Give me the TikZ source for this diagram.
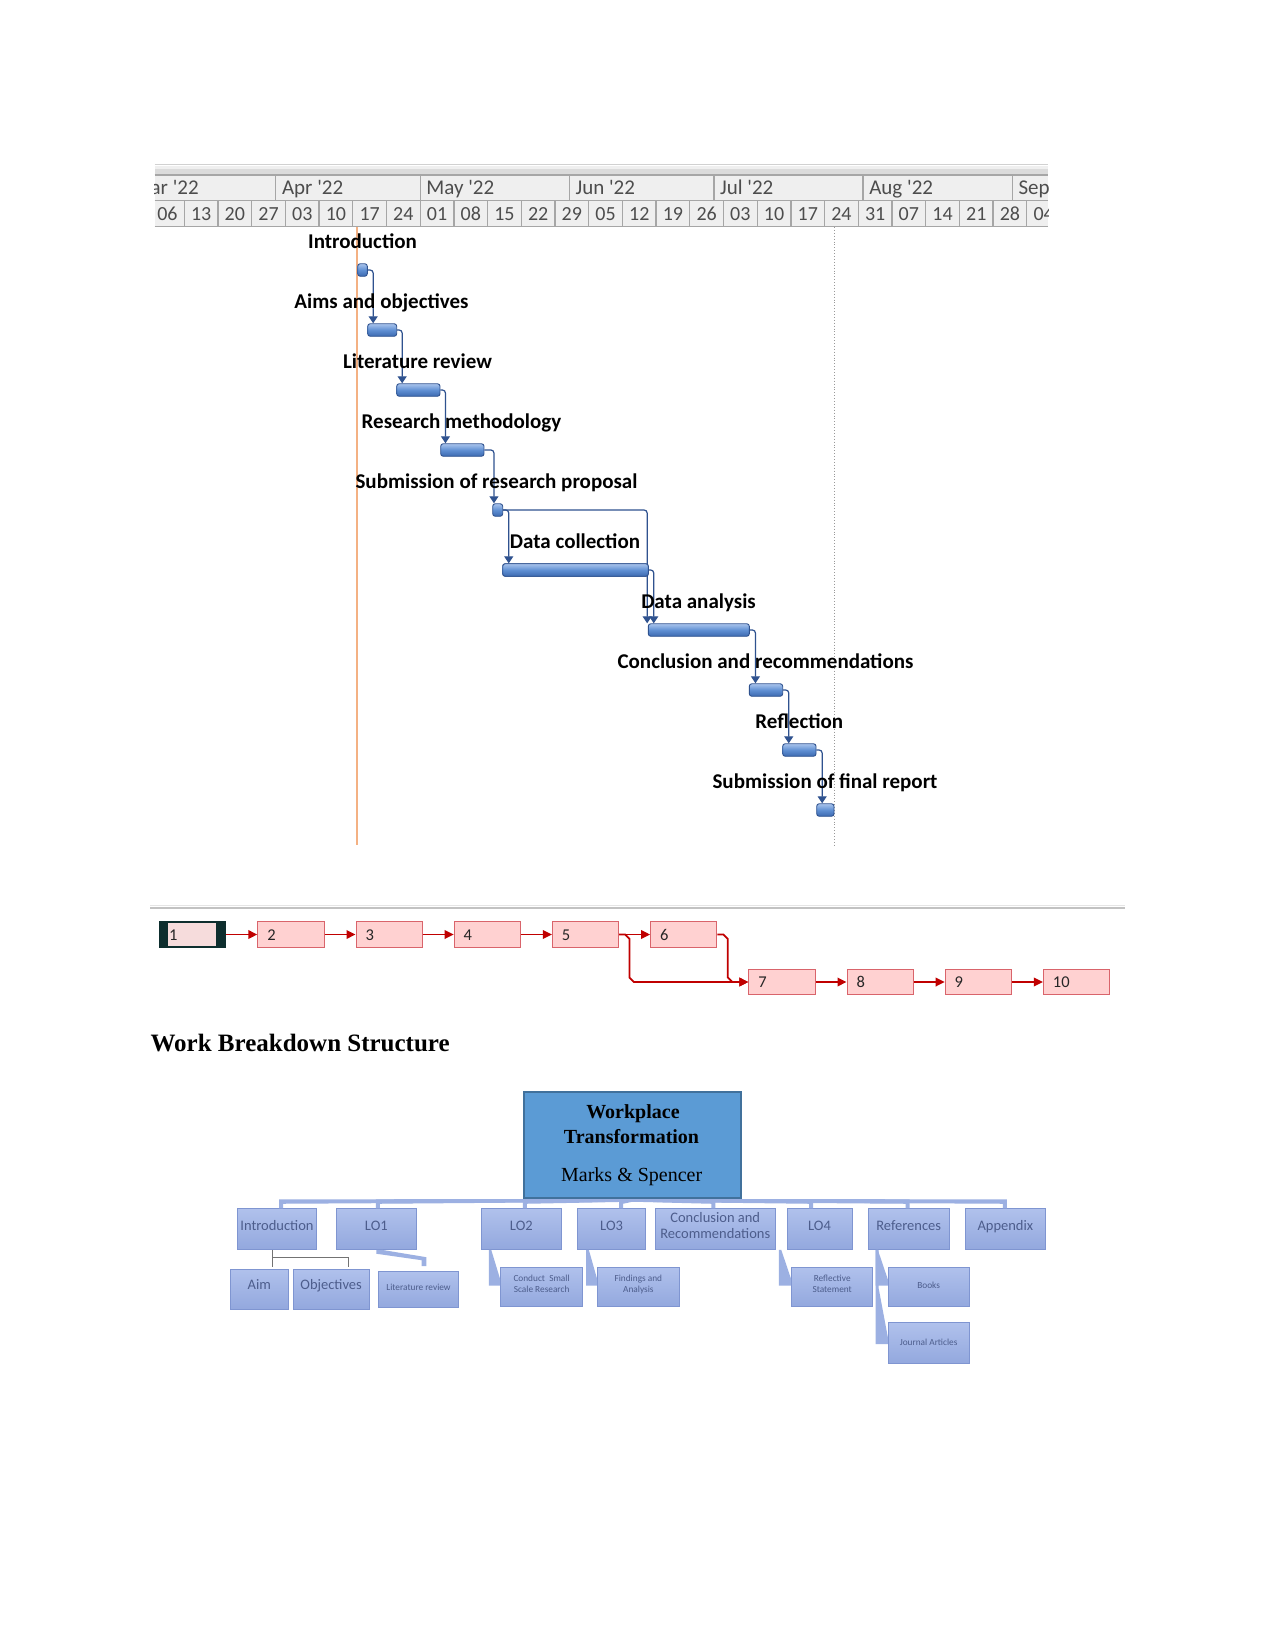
\documentclass[tikz,border=0pt]{standalone}
\usepackage{fontspec}
\setmainfont{Liberation Serif}
\newfontfamily\carl{Carlito}
\usetikzlibrary{arrows.meta,calc}
\definecolor{hdrbg}{HTML}{EFEFEF}
\definecolor{hdrln}{HTML}{A6A6A6}
\definecolor{hdrtx}{HTML}{4D4D4D}
\definecolor{gblue}{HTML}{2F528F}
\definecolor{gtop}{HTML}{A9C4EC}
\definecolor{gmid}{HTML}{5F8FD3}
\definecolor{gbot}{HTML}{3C6AB0}
\definecolor{today}{HTML}{F4B183}
\definecolor{nred}{HTML}{C00000}
\definecolor{nfill}{HTML}{FFD1D1}
\definecolor{nline}{HTML}{D9646B}
\definecolor{ndark}{HTML}{0E2E2E}
\definecolor{ninner}{HTML}{F6DCDC}
\definecolor{wtopf}{HTML}{5B9BD5}
\definecolor{wtopd}{HTML}{41719C}
\definecolor{wfa}{HTML}{B0C1EC}
\definecolor{wfb}{HTML}{93A8DE}
\definecolor{wdr}{HTML}{7F95D1}
\definecolor{wtx}{HTML}{4D5D8C}
\definecolor{wcn}{HTML}{9CB0E2}
\tikzset{
 hline/.style={draw=hdrln, line width=1.3},
 mtxt/.style={anchor=base west, inner sep=0, text=hdrtx, font=\carl\fontsize{21}{25}\selectfont},
 dtxt/.style={anchor=base, inner sep=0, text=hdrtx, font=\carl\fontsize{20}{24}\selectfont},
 gbar/.style={draw=gblue, line width=0.9, rounded corners=2.5, top color=gtop, bottom color=gbot, middle color=gmid, minimum height=12.5, inner sep=0},
 glab/.style={anchor=base, inner sep=0, font=\carl\bfseries\fontsize{21}{25}\selectfont},
 gconn/.style={draw=gblue, line width=1.2, rounded corners=3, -{Triangle[length=7pt,width=9pt]}},
 nbox/.style={draw=nline, fill=nfill, line width=1, minimum width=66.2, minimum height=25.5, inner sep=0},
 nbxone/.style={draw=ndark, fill=ndark, line width=1, minimum width=66.2, minimum height=25.5, inner sep=0},
 ntxt/.style={anchor=base west, inner sep=0, text=black!85, font=\carl\fontsize{16.5}{20}\selectfont},
 narr/.style={draw=nred, line width=1.8, -{Triangle[length=9pt,width=8.5pt]}},
 wtop/.style={draw=wtopd, fill=wtopf, line width=1.8, minimum width=216.4, minimum height=106.6, inner sep=0},
 wbox/.style={draw=wdr, top color=wfa, bottom color=wfb, line width=1, inner sep=0, minimum height=40.5},
 wbig/.style={anchor=base, inner sep=0, text=wtx, font=\carl\fontsize{14.5}{17}\selectfont},
 wsml/.style={anchor=base, inner sep=0, text=wtx, font=\carl\fontsize{9.3}{11}\selectfont},
 wcon/.style={fill=wcn},
}
\begin{document}
\begin{tikzpicture}[x=1pt,y=-1pt]
\useasboundingbox[fill=white] (0,0) rectangle (1275,1650);

% ---------------- Gantt header ----------------
\begin{scope}
\clip (154.6,160) rectangle (1048,229);
\fill[hdrbg] (154.6,166) rectangle (1048,227);
\draw[draw=black!18, line width=1] (154.6,164.5) -- (1048,164.5);
\fill[black!14] (154.6,169) rectangle (1048,174);
\draw[hline] (154.6,175) -- (1048,175);
\draw[hline] (154.6,200.5) -- (1048,200.5);
\draw[hline] (154.6,226.5) -- (1048,226.5);
\foreach \k in {0,...,27} \draw[hline] ({150.6+33.7*\k},200.5) -- ({150.6+33.7*\k},226.5);
\foreach \mx/\ml [count=\mi] in {126.5/Mar,275.8/Apr,420.2/May,569.4/Jun,713.9/Jul,863.1/Aug,1012.4/Sep}{
  \draw[hline] (\mx,175) -- (\mx,200.5);
  \node[mtxt] (m\mi) at (\mx+6,194.5) {\ml\ \textquotesingle 22};
}
\foreach \d [count=\k from 0] in {06,13,20,27,03,10,17,24,01,08,15,22,29,05,12,19,26,03,10,17,24,31,07,14,21,28,04}
  \node[dtxt] (d\k) at ({150.6+33.7*\k+16.85},220.5) {\d};
\end{scope}

% status lines
\draw[draw=today, line width=1.6] (357,227) -- (357,845);
\draw[draw=black!40, line width=0.9, dotted] (834.3,227) -- (834.3,845);

% ---------------- Gantt bars ----------------
\node[gbar, minimum width=9.6] (b1) at (362.5,270) {};
\node[gbar, minimum width=29] (b2) at (382.2,330) {};
\node[gbar, minimum width=43.3] (b3) at (418.35,390) {};
\node[gbar, minimum width=43.3] (b4) at (462.35,450) {};
\node[gbar, minimum width=10] (b5) at (497.7,510) {};
\node[gbar, minimum width=145.6] (b6) at (575.5,570) {};
\node[gbar, minimum width=101] (b7) at (698.8,630) {};
\node[gbar, minimum width=33.4] (b8) at (766,690) {};
\node[gbar, minimum width=33.3] (b9) at (799.35,750) {};
\node[gbar, minimum width=17.3] (b10) at (825.35,810) {};

% connectors
\coordinate (c1) at ($(b1.east)+(5.4,0)$);
\coordinate (c2) at ($(b2.east)+(5,0)$);
\coordinate (c3) at ($(b3.east)+(5,0)$);
\coordinate (c4) at ($(b4.east)+(9.5,0)$);
\coordinate (c5) at ($(b5.east)+(5.6,0)$);
\coordinate (c57) at ($(b6.east |- b5.east)+(-1.6,0)$);
\coordinate (c6) at ($(b6.east)+(5,0)$);
\coordinate (c7) at ($(b7.east)+(5.7,0)$);
\coordinate (c8) at ($(b8.east)+(5.6,0)$);
\coordinate (c9) at ($(b9.east)+(5.7,0)$);
\draw[gconn] (b1.east) -- (c1) -- (c1 |- b2.north);
\draw[gconn] (b2.east) -- (c2) -- (c2 |- b3.north);
\draw[gconn] (b3.east) -- (c3) -- (c3 |- b4.north);
\draw[gconn] (b4.east) -- (c4) -- (c4 |- b5.north);
\draw[gconn] (b5.east) -- (c5) -- (c5 |- b6.north);
\draw[gconn] (b5.east) -- (c57) -- (c57 |- b7.north);
\draw[gconn] (b6.east) -- (c6) -- (c6 |- b7.north);
\draw[gconn] (b7.east) -- (c7) -- (c7 |- b8.north);
\draw[gconn] (b8.east) -- (c8) -- (c8 |- b9.north);
\draw[gconn] (b9.east) -- (c9) -- (c9 |- b10.north);
% redraw bar 6 over the crossing line
\node[gbar, minimum width=145.6] (b6b) at (b6.center) {};

% labels
\node[glab] (l1) at (362.5,248.5) {Introduction};
\node[glab] (l2) at (381.5,308.5) {Aims and objectives};
\node[glab] (l3) at (417.5,368.5) {Literature review};
\node[glab] (l4) at (461.5,428.5) {Research methodology};
\node[glab] (l5) at (496.5,488.5) {Submission of research proposal};
\node[glab] (l6) at (575,548.5) {Data collection};
\node[glab] (l7) at (698.5,608.5) {Data analysis};
\node[glab] (l8) at (765.5,668.5) {Conclusion and recommendations};
\node[glab] (l9) at (799.3,728.5) {Reflection};
\node[glab] (l10) at (825,788.5) {Submission of final report};

% ---------------- Network diagram ----------------
\draw[draw=black!10, line width=1] (150.4,905.3) -- (1124.6,905.3);
\draw[draw=black!24, line width=2] (150.4,907.8) -- (1124.6,907.8);

\node[nbxone] (n1) at (192.7,934.5) {};
\fill[ninner] ($(n1.north west)+(8.8,1.6)$) rectangle ($(n1.south east)+(-10,-1.6)$);
\node[nbox] (n2) at (290.9,934.5) {};
\node[nbox] (n3) at (389.1,934.5) {};
\node[nbox] (n4) at (487.3,934.5) {};
\node[nbox] (n5) at (585.5,934.5) {};
\node[nbox] (n6) at (683.7,934.5) {};
\node[nbox] (n7) at (781.9,982) {};
\node[nbox] (n8) at (880.1,982) {};
\node[nbox] (n9) at (978.3,982) {};
\node[nbox] (n10) at (1076.5,982) {};
\foreach \i in {1,...,10}
  \node[ntxt] (nt\i) at ($(n\i.west)+(9.8,5.5)$) {\i};

\draw[narr] (n1.east) -- (n2.west);
\draw[narr] (n2.east) -- (n3.west);
\draw[narr] (n3.east) -- (n4.west);
\draw[narr] (n4.east) -- (n5.west);
\draw[narr] (n5.east) -- (n6.west);
\draw[narr] (n5.east) -- ++(6,0) -- ++(4.3,4.3) -- ($(n5.east |- n7.west)+(10.3,-4.5)$) -- ++(4.5,4.5) -- (n7.west);
\draw[narr] (n6.east) -- ++(6,0) -- ++(4.5,4.5) -- ($(n6.east |- n7.west)+(10.5,-4.5)$) -- ++(4.5,4.5) -- (n7.west);
\draw[narr] (n7.east) -- (n8.west);
\draw[narr] (n8.east) -- (n9.west);
\draw[narr] (n9.east) -- (n10.west);

% ---------------- WBS ----------------
\node[anchor=base west, inner sep=0, font=\bfseries\fontsize{25}{30}\selectfont] (wbs) at (150.4,1051.5) {Work Breakdown Structure};

\node[wbox, minimum width=79.4] (intro) at (277,1229) {};
\node[wbox, minimum width=80.7] (lo1) at (376.35,1229) {};
\node[wbox, minimum width=80.7] (lo2) at (521.35,1229) {};
\node[wbox, minimum width=67.8] (lo3) at (611.6,1229) {};
\node[wbox, minimum width=119.5] (concl) at (715.25,1229) {};
\node[wbox, minimum width=65] (lo4) at (819.5,1229) {};
\node[wbox, minimum width=80.7] (refs) at (908.65,1229) {};
\node[wbox, minimum width=80.7] (app) at (1005.35,1229) {};

\node[wtop] (top) at (632.5,1145) {};

% top-level connectors
\fill[wcon] ($(intro.north)+(2,0)$) -- ++(0,-9) -- (top.south) -- ++(0,2.5) -- ($(intro.north)+(6,-4.5)$) -- ($(intro.north)+(6,0)$) -- cycle;
\fill[wcon] ($(lo1.north)+(-0.5,0)$) -- ++(0,-9) -- (top.south) -- ++(0,2.5) -- ($(lo1.north)+(3.5,-4.5)$) -- ($(lo1.north)+(3.5,0)$) -- cycle;
\fill[wcon] ($(lo2.north)+(1.5,0)$) -- ++(0,-9) -- (top.south) -- ++(0,2.5) -- ($(lo2.north)+(5.5,-4.5)$) -- ($(lo2.north)+(5.5,0)$) -- cycle;
\fill[wcon] ($(lo3.north)+(7.5,0)$) -- ++(0,-9) -- (top.south) -- ++(0,2.5) -- ($(lo3.north)+(11.5,-4.5)$) -- ($(lo3.north)+(11.5,0)$) -- cycle;
\fill[wcon] ($(concl.north)+(0,0)$) -- ++(0,-9) -- (top.south) -- ++(0,2.5) -- ($(concl.north)+(-4,-4.5)$) -- ($(concl.north)+(-4,0)$) -- cycle;
\fill[wcon] ($(lo4.north)+(-6.5,0)$) -- ++(0,-9) -- (top.south) -- ++(0,2.5) -- ($(lo4.north)+(-10.5,-4.5)$) -- ($(lo4.north)+(-10.5,0)$) -- cycle;
\fill[wcon] ($(refs.north)+(1,0)$) -- ++(0,-9) -- (top.south) -- ++(0,2.5) -- ($(refs.north)+(-3,-4.5)$) -- ($(refs.north)+(-3,0)$) -- cycle;
\fill[wcon] ($(app.north)+(1.5,0)$) -- ++(0,-9) -- (top.south) -- ++(0,2.5) -- ($(app.north)+(-2.5,-4.5)$) -- ($(app.north)+(-2.5,0)$) -- cycle;

\node[wtop] (topb) at (top.center) {};
\node[anchor=base, inner sep=0, font=\bfseries\fontsize{20}{24}\selectfont] (tw1) at (633,1118) {Workplace};
\node[anchor=base, inner sep=0, font=\bfseries\fontsize{20}{24}\selectfont] (tw2) at (631.5,1143) {Transformation};
\node[anchor=base, inner sep=0, font=\fontsize{20}{24}\selectfont] (tw3) at (631.7,1181.5) {Marks \& Spencer};

% grandchildren
\node[wbox, minimum width=57.3, minimum height=40.3] (aim) at (259.35,1289.15) {};
\node[wbox, minimum width=75.7, minimum height=40.3] (obj) at (331.15,1289.15) {};
\node[wbox, minimum width=80.4, minimum height=36.3] (lit) at (418.5,1289.15) {};
\node[wbox, minimum width=81.8, minimum height=39.4] (cond) at (541.6,1287) {};
\node[wbox, minimum width=81.3, minimum height=39.4] (find) at (638.35,1287) {};
\node[wbox, minimum width=81, minimum height=39.4] (refl) at (832.2,1287) {};
\node[wbox, minimum width=80.7, minimum height=39.4] (books) at (928.65,1287) {};
\node[wbox, minimum width=80.7, minimum height=40.6] (jour) at (928.65,1343) {};

% lower connectors
\draw[draw=black!55, line width=1.4] (intro.south -| 272.3,0) -- (272.3,1266.7);
\draw[draw=black!55, line width=1.4] (272.3,1257.7) -- (348.3,1257.7) -- (348.3,1266.7);
\fill[wcon] (lo1.south) -- ++(5,0) -- ($(lit.north east)+(-32.8,-13.3)$) -- ++(0,9) -- ++(-4.7,0) -- ++(0,-6) -- ($(lo1.south)+(0,4)$) -- cycle;
\fill[wcon] ($(lo2.south west)+(8.3,0)$) -- ++(2.4,0) -- ($(cond.west)+(0,-7.7)$) -- ($(cond.west)+(0,-1.3)$) -- ++(-11.4,0) -- cycle;
\fill[wcon] ($(lo3.south west)+(9,0)$) -- ++(2.6,0) -- ($(find.west)+(0,-7.7)$) -- ($(find.west)+(0,-1.3)$) -- ++(-11,0) -- cycle;
\fill[wcon] ($(lo4.south west)+(-7.7,0)$) -- ++(2.4,0) -- ($(refl.west)+(0,-7.7)$) -- ($(refl.west)+(0,-1.3)$) -- ++(-12.4,0) -- cycle;
\fill[wcon] ($(refs.south west)+(7.7,0)$) -- ++(2.3,0) -- ($(books.west)+(0,-7.7)$) -- ($(books.west)+(0,-1.3)$) -- ++(-12.3,0) -- cycle;
\fill[wcon] ($(refs.south west)+(7.7,0)$) -- ++(3,0) -- ++(0,37.7) -- ($(jour.west)+(0,-6)$) -- ($(jour.west)+(0,1)$) -- ++(-12.3,0) -- cycle;

% texts
\node[wbig] (ti) at (277,1230.8) {Introduction};
\node[wbig] (t1) at (376.35,1230.8) {LO1};
\node[wbig] (t2) at (521.35,1230.8) {LO2};
\node[wbig] (t3) at (611.6,1230.8) {LO3};
\node[wbig] (tc1) at (715.25,1222.3) {Conclusion and};
\node[wbig] (tc2) at (715.25,1238.8) {Recommendations};
\node[wbig] (t4) at (819.5,1230.8) {LO4};
\node[wbig] (tr) at (908.65,1230.8) {References};
\node[wbig] (ta) at (1005.35,1230.8) {Appendix};
\node[wbig] (taim) at (259.35,1289) {Aim};
\node[wbig] (tobj) at (331.15,1289) {Objectives};
\node[wsml] (tlit) at (418.5,1290) {Literature review};
\node[wsml] (tcd1) at (541.6,1281) {Conduct\ \ Small};
\node[wsml] (tcd2) at (541.6,1292.5) {Scale Research};
\node[wsml] (tf1) at (638.35,1281) {Findings and};
\node[wsml] (tf2) at (638.35,1292.5) {Analysis};
\node[wsml] (trf1) at (832.2,1281) {Reflective};
\node[wsml] (trf2) at (832.2,1292.5) {Statement};
\node[wsml] (tbk) at (928.65,1288.2) {Books};
\node[wsml] (tjr) at (928.65,1345) {Journal Articles};
\end{tikzpicture}
\end{document}
